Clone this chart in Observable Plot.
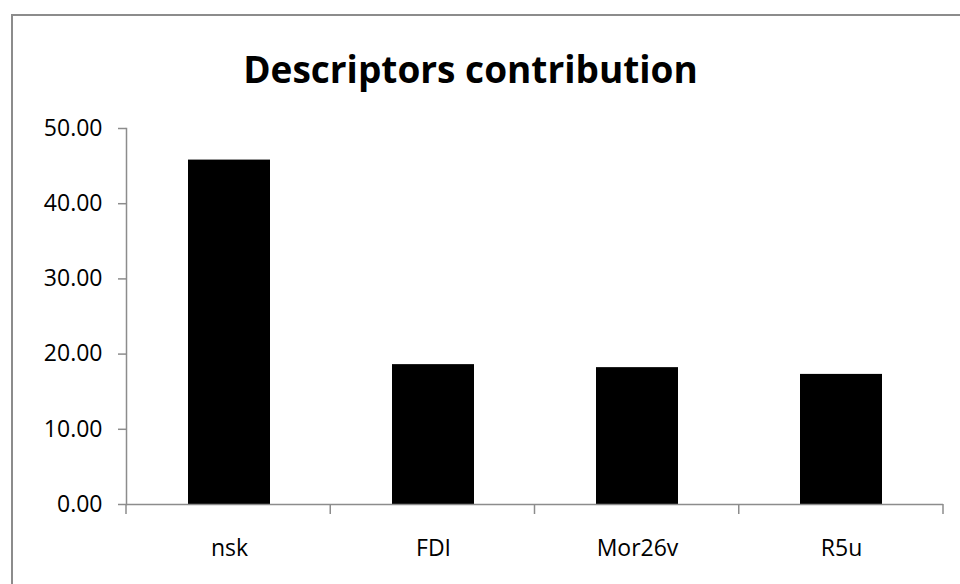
<!DOCTYPE html>
<html>
<head>
<meta charset="utf-8">
<script src="https://cdn.jsdelivr.net/npm/d3@7"></script>
<script src="https://cdn.jsdelivr.net/npm/@observablehq/plot@0.6"></script>
<style>
  html, body { margin: 0; padding: 0; background: #fff; }
  #wrap { position: relative; width: 960px; height: 584px; overflow: hidden; font-family: "Open Sans", sans-serif; }
  #frame { position: absolute; left: 11px; top: 14px; width: 980px; height: 600px; border: 2px solid #8c8c8c; box-sizing: border-box; }
  #title { position: absolute; left: 0; width: 941px; top: 50px; text-align: center; font-weight: 700; font-size: 37px; line-height: 1; color: #000; }
  #chart { position: absolute; left: 0; top: 0; }
</style>
</head>
<body>
<div id="wrap">
  <div id="frame"></div>
  <div id="title">Descriptors contribution</div>
  <div id="chart"></div>
</div>
<script>
// Descriptor names and their contribution values
const descriptors = ["nsk", "FDI", "Mor26v", "R5u"];
const contributions = [45.8, 18.6, 18.2, 17.3];
const yTicks = [0, 10, 20, 30, 40, 50];

const data = descriptors.map((name, i) => ({name, value: contributions[i]}));

const W = 960, H = 584;
const margins = {left: 126, right: 17, top: 128, bottom: 80};
const axisColor = "#8c8c8c";

// Tick marks on the category axis, placed at the boundaries between bands
function bandBoundaryTicks() {
  return (index, scales, values, dims) => {
    const n = descriptors.length;
    const x0 = dims.marginLeft, x1 = dims.width - dims.marginRight;
    const step = (x1 - x0) / n;
    const y0 = scales.y(0);
    const g = d3.create("svg:g");
    g.selectAll("line")
      .data(d3.range(n + 1))
      .join("line")
      .attr("x1", i => x0 + i * step)
      .attr("x2", i => x0 + i * step)
      .attr("y1", y0)
      .attr("y2", y0 + 10)
      .attr("stroke", axisColor)
      .attr("stroke-width", 1.5);
    return g.node();
  };
}

const plot = Plot.plot({
  width: W,
  height: H,
  marginLeft: margins.left,
  marginRight: margins.right,
  marginTop: margins.top,
  marginBottom: margins.bottom,
  style: {fontFamily: "Open Sans, sans-serif", fontSize: "23px", color: "#000", background: "transparent"},
  x: {domain: descriptors, paddingInner: 0.6, paddingOuter: 0.3, label: null},
  y: {domain: [0, 50], label: null},
  marks: [
    Plot.barY(data, {x: "name", y: "value", fill: "#000"}),
    Plot.frame({anchor: "left", stroke: axisColor, strokeWidth: 1.5}),
    Plot.ruleY([0], {stroke: axisColor, strokeWidth: 1.5}),
    Plot.axisY({ticks: yTicks, tickFormat: d3.format(".2f"), tickSize: 8, tickPadding: 16, stroke: axisColor, strokeWidth: 1.5, fill: "#000", fontSize: 23, label: null}),
    Plot.axisX({tickSize: 0, tickPadding: 35, fill: "#000", fontSize: 23, label: null}),
    bandBoundaryTicks()
  ]
});

document.getElementById("chart").append(plot);
</script>
</body>
</html>
